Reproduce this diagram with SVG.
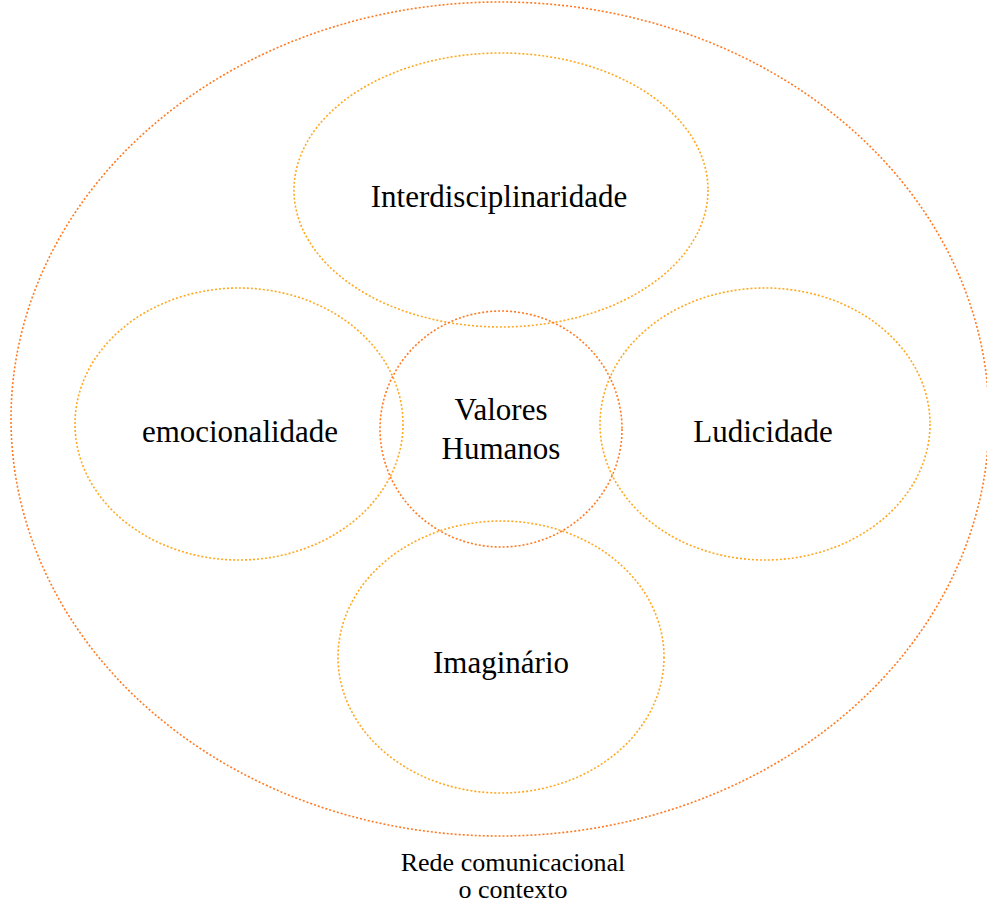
<svg xmlns="http://www.w3.org/2000/svg" width="987" height="905" viewBox="0 0 987 905">
<style>
.e{fill:none;stroke-width:1.6;stroke-dasharray:2 2}
.o{stroke:#FF7A22}
.y{stroke:#FFA820}
.t{font-family:'Liberation Serif',serif;fill:#000;text-anchor:middle}
.l{font-size:31px}
.s{font-size:26px}
</style>
<rect width="987" height="905" fill="#fff"/>
<g id="context">
<ellipse class="e o" cx="500" cy="419" rx="489" ry="417"/>
<text class="t s" x="513" y="871">Rede comunicacional</text>
<text class="t s" x="513" y="898">o contexto</text>
</g>
<g id="interdisciplinaridade">
<ellipse class="e y" cx="501" cy="190" rx="207" ry="137"/>
<text class="t l" x="499" y="207">Interdisciplinaridade</text>
</g>
<g id="emocionalidade">
<ellipse class="e y" cx="239" cy="424" rx="164" ry="136"/>
<text class="t l" x="240" y="442">emocionalidade</text>
</g>
<g id="ludicidade">
<ellipse class="e y" cx="765" cy="424" rx="165" ry="136"/>
<text class="t l" x="763" y="442">Ludicidade</text>
</g>
<g id="imaginario">
<ellipse class="e y" cx="501" cy="657" rx="163" ry="136"/>
<text class="t l" x="501" y="673">Imaginário</text>
</g>
<g id="valores">
<ellipse class="e o" cx="501" cy="429" rx="121" ry="118"/>
<text class="t l" x="501" y="420">Valores</text>
<text class="t l" x="501" y="459">Humanos</text>
</g>
<g id="connectors"></g>
</svg>
